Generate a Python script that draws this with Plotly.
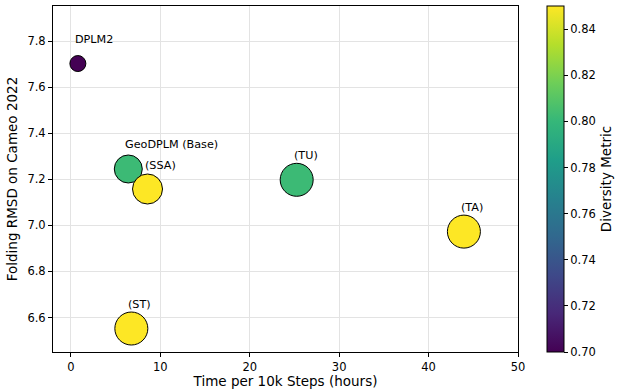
import plotly.graph_objects as go

# Data
labels = ["DPLM2", "GeoDPLM (Base)", "(SSA)", "(TU)", "(TA)", "(ST)"]
time_hours = [0.78, 6.42, 8.57, 25.25, 43.95, 6.76]
rmsd = [7.703, 7.245, 7.158, 7.198, 6.973, 6.552]
diversity = [0.700, 0.802, 0.850, 0.802, 0.850, 0.850]
marker_sizes = [16, 28, 30, 33, 33, 33]

x_ticks = [0, 10, 20, 30, 40, 50]
y_ticks = [6.6, 6.8, 7.0, 7.2, 7.4, 7.6, 7.8]
cb_ticks = [0.70, 0.72, 0.74, 0.76, 0.78, 0.80, 0.82, 0.84]

FONT = "DejaVu Sans"
TITLE_SIZE = 13.5
TICK_SIZE = 11.5

fig = go.Figure()
fig.add_trace(go.Scatter(
    x=time_hours, y=rmsd, mode="markers",
    marker=dict(
        size=marker_sizes, color=diversity, colorscale="Viridis",
        cmin=0.70, cmax=0.85, opacity=1,
        line=dict(color="black", width=1),
        showscale=True,
        colorbar=dict(
            x=(547 - 53) / 465, xanchor="left", xref="paper",
            y=0.5, yanchor="middle", len=1.0, lenmode="fraction",
            thickness=17, thicknessmode="pixels",
            outlinewidth=1, outlinecolor="black",
            ticks="outside", ticklen=4, tickcolor="black",
            tickvals=cb_ticks, ticktext=[f"{v:.2f}" for v in cb_ticks],
            tickfont=dict(family=FONT, size=TICK_SIZE, color="black"),
            title=dict(text="Diversity Metric", side="right",
                       font=dict(family=FONT, size=TITLE_SIZE, color="black")),
            xpad=0, ypad=0,
        ),
    ),
    hoverinfo="skip", showlegend=False,
))

for lab, xv, yv in zip(labels, time_hours, rmsd):
    fig.add_annotation(
        x=xv, y=yv, text=lab, showarrow=False,
        xanchor="left", yanchor="middle", xshift=-5, yshift=24,
        font=dict(family=FONT, size=11.2, color="black"),
    )

axis_common = dict(
    showline=True, linecolor="black", linewidth=1, mirror=True,
    ticks="outside", ticklen=4, tickcolor="black",
    showgrid=True, gridcolor="#e3e3e3", gridwidth=1, zeroline=False,
    automargin=False,
    tickfont=dict(family=FONT, size=TICK_SIZE, color="black"),
)

fig.update_layout(
    width=619, height=389,
    margin=dict(l=53, r=101, t=6, b=37, autoexpand=False),
    paper_bgcolor="white", plot_bgcolor="white",
    font=dict(family=FONT, color="black"),
    xaxis=dict(range=[-2.0, 50], tickvals=x_ticks,
               title=dict(text="Time per 10k Steps (hours)", standoff=3,
                          font=dict(family=FONT, size=TITLE_SIZE, color="black")),
               **axis_common),
    yaxis=dict(range=[6.45, 7.953], tickvals=y_ticks,
               ticktext=[f"{v:.1f}" for v in y_ticks],
               title=dict(text="Folding RMSD on Cameo 2022", standoff=6,
                          font=dict(family=FONT, size=TITLE_SIZE, color="black")),
               **axis_common),
)

fig.write_html("out.html", config={"displayModeBar": False},
               post_script="document.body.style.margin='0px';")
